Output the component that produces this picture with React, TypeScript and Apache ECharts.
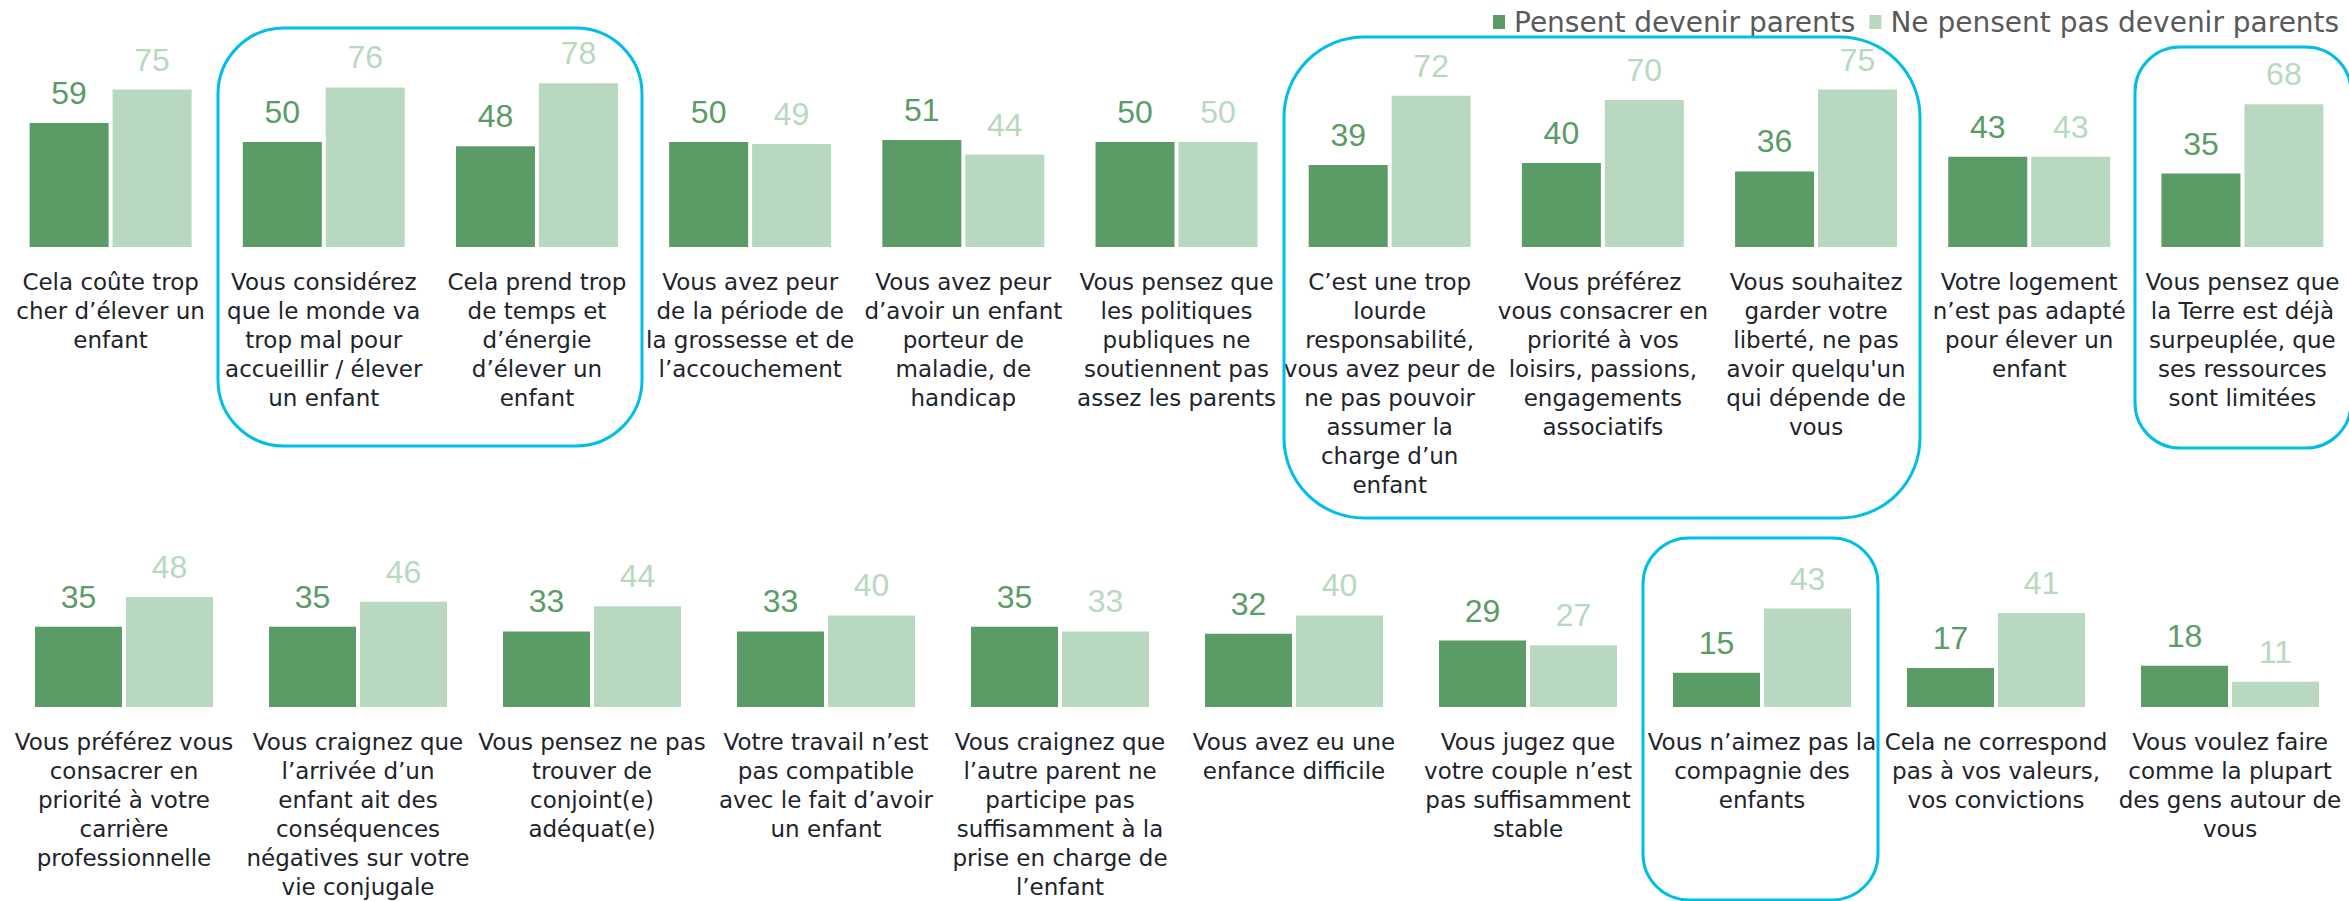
import React, { useEffect, useRef } from "react";
import * as echarts from "echarts";

const seriesNames = ["Pensent devenir parents", "Ne pensent pas devenir parents"];

const topCategories = [
  "Cela coûte trop\ncher d’élever un\nenfant",
  "Vous considérez\nque le monde va\ntrop mal pour\naccueillir / élever\nun enfant",
  "Cela prend trop\nde temps et\nd’énergie\nd’élever un\nenfant",
  "Vous avez peur\nde la période de\nla grossesse et de\nl’accouchement",
  "Vous avez peur\nd’avoir un enfant\nporteur de\nmaladie, de\nhandicap",
  "Vous pensez que\nles politiques\npubliques ne\nsoutiennent pas\nassez les parents",
  "C’est une trop\nlourde\nresponsabilité,\nvous avez peur de\nne pas pouvoir\nassumer la\ncharge d’un\nenfant",
  "Vous préférez\nvous consacrer en\npriorité à vos\nloisirs, passions,\nengagements\nassociatifs",
  "Vous souhaitez\ngarder votre\nliberté, ne pas\navoir quelqu'un\nqui dépende de\nvous",
  "Votre logement\nn’est pas adapté\npour élever un\nenfant",
  "Vous pensez que\nla Terre est déjà\nsurpeuplée, que\nses ressources\nsont limitées",
];
const topDark = [59, 50, 48, 50, 51, 50, 39, 40, 36, 43, 35];
const topLight = [75, 76, 78, 49, 44, 50, 72, 70, 75, 43, 68];

const bottomCategories = [
  "Vous préférez vous\nconsacrer en\npriorité à votre\ncarrière\nprofessionnelle",
  "Vous craignez que\nl’arrivée d’un\nenfant ait des\nconséquences\nnégatives sur votre\nvie conjugale",
  "Vous pensez ne pas\ntrouver de\nconjoint(e)\nadéquat(e)",
  "Votre travail n’est\npas compatible\navec le fait d’avoir\nun enfant",
  "Vous craignez que\nl’autre parent ne\nparticipe pas\nsuffisamment à la\nprise en charge de\nl’enfant",
  "Vous avez eu une\nenfance difficile",
  "Vous jugez que\nvotre couple n’est\npas suffisamment\nstable",
  "Vous n’aimez pas la\ncompagnie des\nenfants",
  "Cela ne correspond\npas à vos valeurs,\nvos convictions",
  "Vous voulez faire\ncomme la plupart\ndes gens autour de\nvous",
];
const bottomDark = [35, 35, 33, 33, 35, 32, 29, 15, 17, 18];
const bottomLight = [48, 46, 44, 40, 33, 40, 27, 43, 41, 11];

const DARK = "#5A9B66";
const LIGHT = "#B9D8C0";
const CYAN = "#00BEE8";
const LABEL_FONT = "'DejaVu Sans', sans-serif";
const NUM_FONT = "'Liberation Sans', Arial, sans-serif";

export default function App() {
  const ref = useRef<HTMLDivElement>(null);

  useEffect(() => {
    if (!ref.current) return;
    const chart = echarts.init(ref.current, null, { renderer: "svg" });

    const axisLabel = {
      interval: 0,
      margin: 20,
      fontSize: 23,
      lineHeight: 29,
      color: "#1e242b",
      fontFamily: LABEL_FONT,
    };

    const valueLabel = (color: string) => ({
      show: true,
      position: "top",
      distance: 14,
      color,
      fontSize: 32,
      fontFamily: NUM_FONT,
    });

    const box = (x: number, y: number, w: number, h: number, r: number) => ({
      type: "rect",
      shape: { x, y, width: w, height: h, r },
      style: { fill: "none", stroke: CYAN, lineWidth: 3 },
      silent: true,
      z: 10,
    });

    chart.setOption({
      animation: false,
      backgroundColor: "#ffffff",
      legend: {
        data: seriesNames,
        left: 1488,
        top: 3,
        width: 1200,
        orient: "horizontal",
        icon: "rect",
        itemWidth: 12,
        itemHeight: 14,
        itemGap: 14,
        textStyle: {
          fontSize: 28,
          color: "#595959",
          fontFamily: LABEL_FONT,
          padding: [0, 0, 0, 4],
        },
      },
      grid: [
        { left: 4, top: 37, width: 2346, height: 210 },
        { left: 7, top: 478, width: 2340, height: 236 },
      ],
      xAxis: [
        {
          type: "category",
          gridIndex: 0,
          data: topCategories,
          axisLine: { show: false },
          axisTick: { show: false },
          axisLabel,
        },
        {
          type: "category",
          gridIndex: 1,
          data: bottomCategories,
          axisLine: { show: false },
          axisTick: { show: false },
          axisLabel,
        },
      ],
      yAxis: [
        { type: "value", gridIndex: 0, min: 0, max: 100, show: false, splitLine: { show: false } },
        { type: "value", gridIndex: 1, min: 0, max: 100, show: false, splitLine: { show: false } },
      ],
      series: [
        {
          name: seriesNames[0],
          type: "bar",
          xAxisIndex: 0,
          yAxisIndex: 0,
          data: topDark,
          barWidth: 79,
          itemStyle: { color: DARK },
          label: valueLabel(DARK),
        },
        {
          name: seriesNames[1],
          type: "bar",
          xAxisIndex: 0,
          yAxisIndex: 0,
          data: topLight,
          barWidth: 79,
          barGap: "5%",
          itemStyle: { color: LIGHT },
          label: valueLabel(LIGHT),
        },
        {
          name: seriesNames[0],
          type: "bar",
          xAxisIndex: 1,
          yAxisIndex: 1,
          data: bottomDark,
          barWidth: 87,
          itemStyle: { color: DARK },
          label: valueLabel(DARK),
        },
        {
          name: seriesNames[1],
          type: "bar",
          xAxisIndex: 1,
          yAxisIndex: 1,
          data: bottomLight,
          barWidth: 87,
          barGap: "4.6%",
          itemStyle: { color: LIGHT },
          label: valueLabel(LIGHT),
        },
      ],
      graphic: [
        box(218, 28, 424, 418, 66),
        box(1284, 37, 636, 481, 80),
        box(2135, 47, 216, 401, 45),
        box(1643, 538, 235, 362, 46),
      ],
    });

    return () => chart.dispose();
  }, []);

  return (
    <div
      ref={ref}
      style={{ position: "fixed", left: 0, top: 0, width: "2349px", height: "901px" }}
    />
  );
}
